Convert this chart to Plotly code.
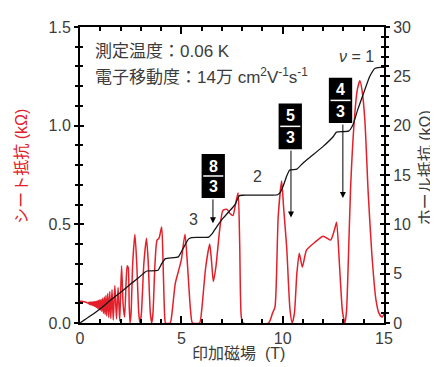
import plotly.graph_objects as go

# ---- data ----
field_rxx = [0.0, 0.1, 0.2, 0.3, 0.40, 0.43, 0.46, 0.49, 0.52, 0.55, 0.58, 0.61, 0.64, 0.67, 0.70,
             0.73, 0.76, 0.79, 0.82, 0.85, 0.88, 0.91, 0.94, 0.97, 1.00, 1.04, 1.08, 1.12, 1.16,
             1.20, 1.24, 1.28, 1.32, 1.37, 1.42, 1.47, 1.52, 1.58, 1.64, 1.72, 1.80, 1.88,
             1.96, 2.05, 2.13, 2.20, 2.28, 2.33, 2.38, 2.43, 2.47, 2.52, 2.60, 2.71, 2.80, 2.90,
             2.96, 3.03, 3.15, 3.28, 3.36, 3.47, 3.54, 3.60, 3.70, 3.80, 3.90, 4.03, 4.10, 4.18,
             4.22, 4.45, 4.55, 4.70, 4.85, 5.00, 5.18, 5.30, 5.45, 5.55, 5.90, 6.00, 6.20, 6.40,
             6.50, 6.58, 6.70, 6.90, 7.05, 7.25, 7.40, 7.55, 7.65, 7.80, 7.88, 7.96, 8.05, 9.30,
             9.50, 9.62, 9.78, 9.95, 10.05, 10.20, 10.36, 10.47, 10.58, 10.70, 10.82, 10.97, 11.18,
             11.60, 12.00, 12.36, 12.55, 12.66, 12.80, 12.95, 13.07, 13.15, 13.25, 13.35, 13.53,
             13.68, 13.81, 13.93, 14.06, 14.22, 14.40, 14.60, 14.75, 14.90, 15.0]
sheet_res = [0.110, 0.110, 0.108, 0.105, 0.100, 0.104, 0.095, 0.106, 0.093, 0.106, 0.091, 0.107,
             0.088, 0.108, 0.085, 0.109, 0.082, 0.110, 0.078, 0.112, 0.074, 0.114, 0.070, 0.116,
             0.065, 0.120, 0.058, 0.125, 0.050, 0.132, 0.043, 0.140, 0.036, 0.150, 0.028, 0.160,
             0.022, 0.170, 0.015, 0.190, 0.020, 0.180, 0.010, 0.290, 0.090, 0.030, 0.220, 0.290,
             0.280, 0.080, 0.000, 0.050, 0.300, 0.450, 0.300, 0.050, 0.000, 0.050, 0.300, 0.430,
             0.320, 0.050, 0.000, 0.050, 0.300, 0.420, 0.430, 0.486, 0.300, 0.030, 0.000, 0.000,
             0.060, 0.200, 0.260, 0.320, 0.450, 0.300, 0.070, 0.000, 0.000, 0.060, 0.280, 0.400,
             0.300, 0.210, 0.280, 0.480, 0.570, 0.576, 0.555, 0.545, 0.590, 0.660, 0.400, 0.030,
             0.000, 0.000, 0.050, 0.080, 0.540, 0.720, 0.580, 0.380, 0.070, 0.000, 0.050, 0.250,
             0.354, 0.283, 0.370, 0.410, 0.440, 0.420, 0.470, 0.510, 0.300, 0.060, 0.000, 0.060,
             0.350, 0.680, 1.020, 1.180, 1.227, 1.170, 1.020, 0.660, 0.350, 0.120, 0.050, 0.030,
             0.045]

field_rxy = [0.0, 0.5, 1.0, 1.5, 2.0, 2.5, 2.9, 3.2, 3.3, 3.85, 4.0, 4.2, 4.85, 5.1, 5.35, 5.5,
             6.35, 6.5, 6.6, 6.9, 7.05, 7.4, 7.65, 7.86, 8.0, 9.75, 9.9, 10.03, 10.2, 10.35, 10.7,
             11.0, 11.35, 12.0, 12.5, 12.65, 13.25, 13.47, 13.7, 13.96, 14.3, 14.55, 14.8, 15.0]
hall_res = [0.0, 0.7, 1.45, 2.3, 3.1, 3.95, 4.6, 5.15, 5.27, 5.35, 5.9, 6.5, 6.7, 7.6, 8.5, 8.66,
            8.7, 9.0, 9.3, 10.2, 10.6, 11.4, 12.0, 12.9, 12.95, 13.0, 13.3, 13.9, 14.9, 15.5, 15.6,
            16.2, 16.8, 17.9, 18.9, 19.35, 19.45, 20.1, 21.6, 23.1, 25.0, 25.8, 25.9, 25.9]

x_ticks = [0, 5, 10, 15]
left_ticks = [0.0, 0.5, 1.0, 1.5]
right_ticks = [0, 5, 10, 15, 20, 25, 30]

RED = "#e3202a"
GRAY = "#3c3c3c"
FONT = "Liberation Sans, Arial, Noto Sans CJK JP, sans-serif"

fig = go.Figure()
fig.add_trace(go.Scatter(x=field_rxx, y=sheet_res, mode="lines",
                         line=dict(color=RED, width=1.5, shape="spline", smoothing=0.6),
                         showlegend=False, hoverinfo="skip"))
fig.add_trace(go.Scatter(x=field_rxy, y=hall_res, mode="lines", yaxis="y2",
                         line=dict(color="#151515", width=1.3, shape="spline", smoothing=0.4),
                         showlegend=False, hoverinfo="skip"))
# helper traces so the tick-only overlay axes are drawn
fig.add_trace(go.Scatter(x=[None], y=[None], yaxis="y3", showlegend=False, hoverinfo="skip"))
fig.add_trace(go.Scatter(x=[None], y=[None], yaxis="y4", showlegend=False, hoverinfo="skip"))

tickfont = dict(family=FONT, size=16, color=GRAY)

# page body has an 8px margin, so the figure is made 8px smaller and margins reduced
fig.update_layout(
    width=430, height=359,
    margin=dict(l=72, r=54, t=11, b=44),
    paper_bgcolor="white", plot_bgcolor="white",
    font=dict(family=FONT, color=GRAY),
    xaxis=dict(range=[0, 15], tickvals=x_ticks, ticks="inside", ticklen=7, tickwidth=1.5,
               tickcolor="black", showline=True, linewidth=2, linecolor="black",
               mirror="ticks", showgrid=False, zeroline=False, tickfont=tickfont,
               minor=dict(dtick=1, ticks="inside", ticklen=4, tickwidth=1.5, tickcolor="black")),
    yaxis=dict(range=[0, 1.5], tickvals=left_ticks, tickformat=".1f", ticks="outside",
               ticklen=4, tickwidth=1.5, tickcolor="black", showline=True, linewidth=2,
               linecolor="black", showgrid=False, zeroline=False, tickfont=tickfont,
               minor=dict(dtick=0.1, ticks="outside", ticklen=3, tickwidth=1.5, tickcolor="black")),
    yaxis3=dict(range=[0, 1.5], overlaying="y", side="left", tickvals=left_ticks,
                ticks="inside", ticklen=4, tickwidth=1.5, tickcolor="black",
                showticklabels=False, showline=False, showgrid=False, zeroline=False,
                minor=dict(dtick=0.1, ticks="inside", ticklen=3, tickwidth=1.5, tickcolor="black")),
    yaxis2=dict(range=[0, 30], tickvals=right_ticks, overlaying="y", side="right",
                ticks="outside", ticklen=4, tickwidth=1.5, tickcolor="black", showline=True,
                linewidth=2, linecolor="black", showgrid=False, zeroline=False, tickfont=tickfont,
                minor=dict(dtick=1, ticks="outside", ticklen=3, tickwidth=1.5, tickcolor="black")),
    yaxis4=dict(range=[0, 30], overlaying="y", side="right", tickvals=right_ticks,
                ticks="inside", ticklen=4, tickwidth=1.5, tickcolor="black",
                showticklabels=False, showline=False, showgrid=False, zeroline=False,
                minor=dict(dtick=1, ticks="inside", ticklen=3, tickwidth=1.5, tickcolor="black")),
)

ann = []
# axis titles
ann.append(dict(text="シート抵抗 (kΩ)", xref="paper", yref="paper", x=-0.191, y=0.531,
                xanchor="center", yanchor="middle",
                textangle=-90, showarrow=False, font=dict(family=FONT, size=16, color=RED)))
ann.append(dict(text="ホール抵抗 (kΩ)", xref="paper", yref="paper", x=1.135, y=0.523,
                xanchor="center", yanchor="middle",
                textangle=-90, showarrow=False, font=dict(family=FONT, size=16, color=GRAY)))
ann.append(dict(text="印加磁場\u00a0 (T)", xref="paper", yref="paper", x=0.523, y=-0.104,
                xanchor="center", yanchor="middle",
                showarrow=False, font=dict(family=FONT, size=16, color=GRAY)))
# info text
ann.append(dict(text="測定温度：0.06 K", xref="x", yref="y", x=0.64, y=1.375, xanchor="left",
                yanchor="middle", showarrow=False, font=dict(family=FONT, size=17, color=GRAY)))
ann.append(dict(text="電子移動度：14万 cm<sup>2</sup>V<sup>-1</sup>s<sup>-1</sup>", xref="x", yref="y",
                x=0.64, y=1.251, xanchor="left", yanchor="middle", showarrow=False,
                font=dict(family=FONT, size=17, color=GRAY)))
ann.append(dict(text="<i>ν</i> = 1", xref="x", yref="y", x=14.6, y=1.35, xanchor="right",
                yanchor="middle", showarrow=False, font=dict(family=FONT, size=16, color=GRAY)))
ann.append(dict(text="3", xref="x", yref="y", x=5.62, y=0.527, showarrow=False,
                xanchor="center", yanchor="middle", font=dict(family=FONT, size=16, color=GRAY)))
ann.append(dict(text="2", xref="x", yref="y", x=8.75, y=0.741, showarrow=False,
                xanchor="center", yanchor="middle", font=dict(family=FONT, size=16, color=GRAY)))

shapes = []
# fraction boxes: (num, den, x0, x1, y0, y1, arrow_x, arrow_tip_y)
boxes = [("8", "3", 6.00, 7.15, 0.634, 0.856, 6.56, 0.505),
         ("5", "3", 9.80, 10.95, 0.881, 1.112, 10.41, 0.535),
         ("4", "3", 12.28, 13.43, 1.013, 1.243, 12.97, 0.634)]
for num, den, x0, x1, y0, y1, axp, tip in boxes:
    shapes.append(dict(type="rect", xref="x", yref="y", x0=x0, x1=x1, y0=y0, y1=y1,
                       fillcolor="black", line=dict(width=0), layer="above"))
    ym = (y0 + y1) / 2
    shapes.append(dict(type="line", xref="x", yref="y", x0=x0 + 0.08, x1=x1 - 0.08, y0=ym, y1=ym,
                       line=dict(color="white", width=1.5), layer="above"))
    xc = (x0 + x1) / 2
    ann.append(dict(text="<b>" + num + "</b>", xref="x", yref="y", x=xc, y=y1 - 0.062,
                    xanchor="center", yanchor="middle",
                    showarrow=False, font=dict(family=FONT, size=16, color="white")))
    ann.append(dict(text="<b>" + den + "</b>", xref="x", yref="y", x=xc, y=y0 + 0.058,
                    xanchor="center", yanchor="middle",
                    showarrow=False, font=dict(family=FONT, size=16, color="white")))
    ann.append(dict(text="", xref="x", yref="y", x=axp, y=tip, axref="x", ayref="y",
                    ax=axp, ay=y0, showarrow=True, arrowhead=2, arrowsize=1.2,
                    arrowwidth=1, arrowcolor="black"))

fig.update_layout(annotations=ann, shapes=shapes)
fig.write_html("out.html")
